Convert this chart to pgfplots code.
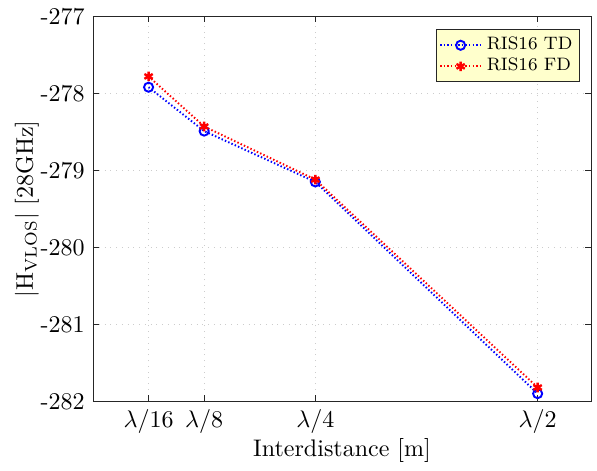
\documentclass[border=0pt]{standalone}
\usepackage{pgfplots}
\pgfplotsset{compat=1.18}
\definecolor{legbg}{RGB}{255,255,204}
\definecolor{frame}{RGB}{38,38,38}
\begin{document}
\begin{tikzpicture}
\begin{axis}[
  scale only axis,
  width=207.5pt, height=160.4pt,
  xmin=0, xmax=0.56,
  ymin=-282, ymax=-277,
  xtick={0.0625,0.125,0.25,0.5},
  xticklabels={$\lambda/16$,$\lambda/8$,$\lambda/4$,$\lambda/2$},
  ytick={-282,-281,-280,-279,-278,-277},
  yticklabels={-282,-281,-280,-279,-278,-277},
  tick align=inside,
  tick pos=both,
  major tick length=2.5pt,
  axis line style={frame, line width=0.4pt},
  tick style={frame, line width=0.4pt},
  grid=major,
  grid style={dotted, gray!40, line width=0.3pt},
  xlabel={Interdistance [m]},
  ylabel={$|\mathrm{H}_{\mathrm{VLOS}}|$ [28GHz]},
  xlabel style={at={(axis description cs:0.5,0)}, anchor=center, yshift=-20.3pt},
  ylabel style={at={(axis description cs:0,0.5)}, anchor=center, yshift=27.5pt},
  legend style={at={(0.978,0.966)}, anchor=north east, fill=legbg, draw=frame,
    font=\fontsize{7.5}{8.5}\selectfont, line width=0.4pt, inner sep=1pt, row sep=-2pt},
  legend cell align=left,
]
\addplot[blue, line width=0.8pt, dash pattern=on 0.6pt off 0.9pt, mark=o, mark size=1.9pt, mark options={solid, line width=0.8pt}]
  coordinates {(0.0625,-277.92) (0.125,-278.49) (0.25,-279.15) (0.5,-281.90)};
\addlegendentry{RIS16 TD}
\addplot[red, line width=0.8pt, dash pattern=on 0.6pt off 0.9pt, mark=asterisk, mark size=2pt, mark options={solid, line width=1pt}]
  coordinates {(0.0625,-277.78) (0.125,-278.43) (0.25,-279.12) (0.5,-281.82)};
\addlegendentry{RIS16 FD}
\end{axis}
\useasboundingbox ([shift={(-38.75pt,-25.4pt)}]current axis.south west) rectangle ([shift={(210pt,167.1pt)}]current axis.south west);
\end{tikzpicture}
\end{document}
